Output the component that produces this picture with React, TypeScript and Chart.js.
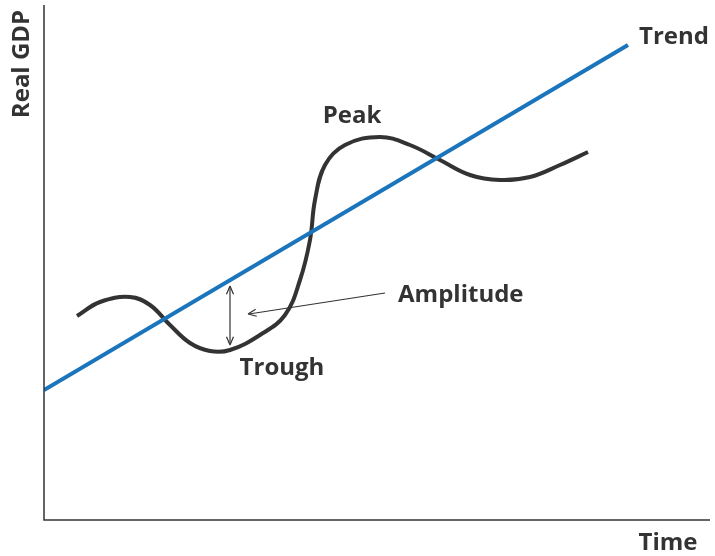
import React, { useEffect, useRef } from 'react';
import { Chart, registerables } from 'chart.js';

Chart.register(...registerables);

// x and y in chart units (x: 0..666, y: 0..515)
const trendX = [0, 584];
const trendY = [130, 475];
const cycleX = [33, 56, 86, 106, 126, 146, 166, 186, 216, 241, 256, 266, 271, 281, 301, 336, 366, 396, 426, 456, 486, 516, 544];
const cycleY = [204, 218, 223, 215, 195, 177, 169, 170, 185, 205, 240, 280, 320, 355, 375, 383, 375, 360, 345, 340, 343, 355, 368];

const annotations = [
  { text: 'Trend', x: 639, y: 37, align: 'left' as CanvasTextAlign },
  { text: 'Peak', x: 352, y: 116, align: 'center' as CanvasTextAlign },
  { text: 'Amplitude', x: 398, y: 295, align: 'left' as CanvasTextAlign },
  { text: 'Trough', x: 282, y: 368, align: 'center' as CanvasTextAlign },
  { text: 'Time', x: 668, y: 543, align: 'center' as CanvasTextAlign },
];

const arrowHead = (ctx: CanvasRenderingContext2D, x: number, y: number, ang: number) => {
  ctx.beginPath();
  ctx.moveTo(x, y);
  ctx.lineTo(x - 9 * Math.cos(ang - 0.4), y - 9 * Math.sin(ang - 0.4));
  ctx.moveTo(x, y);
  ctx.lineTo(x - 9 * Math.cos(ang + 0.4), y - 9 * Math.sin(ang + 0.4));
  ctx.stroke();
};

const decor = {
  id: 'decor',
  afterDraw(chart: any) {
    const ctx = chart.ctx as CanvasRenderingContext2D;
    const { left, right, top, bottom } = chart.chartArea;
    ctx.save();
    ctx.strokeStyle = '#333';
    ctx.lineWidth = 1.5;
    ctx.beginPath();
    ctx.moveTo(left, top);
    ctx.lineTo(left, bottom);
    ctx.lineTo(right, bottom);
    ctx.stroke();
    // amplitude arrows
    ctx.lineWidth = 1.2;
    ctx.beginPath();
    ctx.moveTo(230, 287);
    ctx.lineTo(230, 344);
    ctx.stroke();
    arrowHead(ctx, 230, 286, -Math.PI / 2);
    arrowHead(ctx, 230, 345, Math.PI / 2);
    ctx.beginPath();
    ctx.moveTo(385, 293);
    ctx.lineTo(249, 314);
    ctx.stroke();
    arrowHead(ctx, 248, 314, Math.atan2(314 - 293, 248 - 385));
    ctx.fillStyle = '#333';
    ctx.font = 'bold 24px "Open Sans", sans-serif';
    ctx.textBaseline = 'middle';
    annotations.forEach((a) => {
      ctx.textAlign = a.align;
      ctx.fillText(a.text, a.x, a.y);
    });
    ctx.translate(22, 64);
    ctx.rotate(-Math.PI / 2);
    ctx.textAlign = 'center';
    ctx.fillText('Real GDP', 0, 0);
    ctx.restore();
  },
};

const App: React.FC = () => {
  const canvasRef = useRef<HTMLCanvasElement | null>(null);

  useEffect(() => {
    const ctx = canvasRef.current?.getContext('2d');
    if (!ctx) return;
    const chart = new Chart(ctx, {
      type: 'scatter',
      data: {
        datasets: [
          {
            data: trendX.map((x, i) => ({ x, y: trendY[i] })),
            showLine: true,
            borderColor: '#1a75bc',
            borderWidth: 4,
            pointRadius: 0,
          },
          {
            data: cycleX.map((x, i) => ({ x, y: cycleY[i] })),
            showLine: true,
            borderColor: '#333333',
            borderWidth: 4,
            pointRadius: 0,
            tension: 0.4,
          },
        ],
      },
      options: {
        responsive: false,
        animation: false,
        layout: { padding: { left: 44, top: 5, right: 5, bottom: 36 } },
        plugins: { legend: { display: false }, tooltip: { enabled: false } },
        scales: {
          x: { type: 'linear', min: 0, max: 666, display: false },
          y: { type: 'linear', min: 0, max: 515, display: false },
        },
      },
      plugins: [decor],
    });
    return () => chart.destroy();
  }, []);

  return (
    <div style={{ position: 'absolute', left: 0, top: 0, background: '#fff' }}>
      <canvas ref={canvasRef} width={715} height={556} />
    </div>
  );
};

export default App;
